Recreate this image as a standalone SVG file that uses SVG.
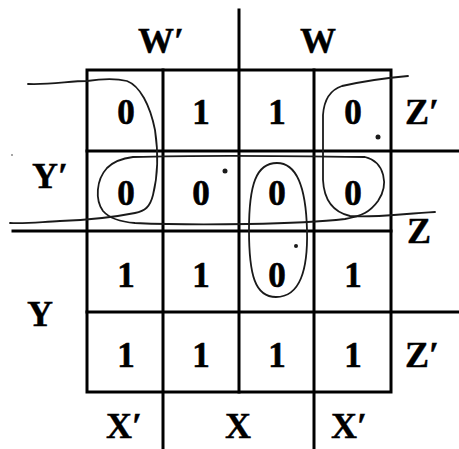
<svg xmlns="http://www.w3.org/2000/svg" width="459" height="449" viewBox="0 0 459 449">
<style>
.g{stroke:#000;stroke-width:3;fill:none;stroke-linecap:square}
.h{stroke:#1a1a1a;stroke-width:1.8;fill:none;stroke-linecap:round;stroke-linejoin:round}
.d{font-family:"Liberation Serif","Times New Roman",serif;font-weight:bold;font-size:35px;text-anchor:middle;fill:#000;stroke:#000;stroke-width:0.6}
.l{font-family:"Liberation Serif","Times New Roman",serif;font-weight:bold;font-size:36px;text-anchor:middle;fill:#000;stroke:#000;stroke-width:0.4}
</style>
<rect width="459" height="449" fill="#fff"/>
<g id="grid">
<rect class="g" x="87" y="70" width="304" height="322"/>
<line class="g" x1="163" y1="70" x2="163" y2="449"/>
<line class="g" x1="239" y1="10" x2="239" y2="392"/>
<line class="g" x1="314" y1="70" x2="314" y2="449"/>
<line class="g" x1="87" y1="151" x2="459" y2="151"/>
<line class="g" x1="13" y1="231" x2="391" y2="231"/>
<line class="g" x1="87" y1="312" x2="459" y2="312"/>
</g>
<g id="labels">
<text class="l" x="161" y="53">W′</text>
<text class="l" x="318" y="53">W</text>
<text class="l" x="422" y="124">Z′</text>
<text class="l" x="50" y="188">Y′</text>
<text class="l" x="419" y="243">Z</text>
<text class="l" x="40" y="326">Y</text>
<text class="l" x="422" y="367">Z′</text>
<text class="l" x="124" y="438">X′</text>
<text class="l" x="238" y="438">X</text>
<text class="l" x="349" y="438">X′</text>
</g>
<g id="r1">
<text class="d" x="126" y="124">0</text>
<text class="d" x="201" y="124">1</text>
<text class="d" x="277" y="124">1</text>
<text class="d" x="353" y="124">0</text>
</g>
<g id="r2">
<text class="d" x="126" y="205">0</text>
<text class="d" x="201" y="205">0</text>
<text class="d" x="277" y="205">0</text>
<text class="d" x="353" y="205">0</text>
</g>
<g id="r3">
<text class="d" x="126" y="287">1</text>
<text class="d" x="201" y="287">1</text>
<text class="d" x="277" y="287">0</text>
<text class="d" x="353" y="287">1</text>
</g>
<g id="r4">
<text class="d" x="126" y="367">1</text>
<text class="d" x="201" y="367">1</text>
<text class="d" x="277" y="367">1</text>
<text class="d" x="353" y="367">1</text>
</g>
<g id="loops">
<path class="h" d="M28,84 C50,85 70,81 87,81 C100,79 115,78 127,81 C140,86 150,105 155,130 C158,150 158,175 153,195 C150,207 145,211 135,213 C110,218 90,220 60,221 C40,222 25,224 10,223"/>
<path class="h" d="M133,157 C200,155 300,156 365,157 C385,162 389,185 378,201 C370,212 362,216 345,219 C300,224 200,226 135,223 C122,222 110,219 103,211 C95,200 96,180 107,168 C115,160 125,158 133,157 Z"/>
<path class="h" d="M408,76 C385,78 360,82 342,86 C330,90 324,100 323,115 L323,180 C324,200 333,212 350,216 C370,218 400,214 435,212"/>
<path class="h" d="M277,163 C298,163 306,190 307,230 C308,270 300,297 276,297 C255,297 249,275 249,230 C249,185 256,163 277,163 Z"/>
<circle cx="225" cy="171" r="2.5" fill="#1a1a1a"/>
<circle cx="378" cy="137" r="2.5" fill="#1a1a1a"/>
<circle cx="296" cy="246" r="2" fill="#1a1a1a"/>
<circle cx="12" cy="155" r="1" fill="#888"/>
</g>
</svg>
